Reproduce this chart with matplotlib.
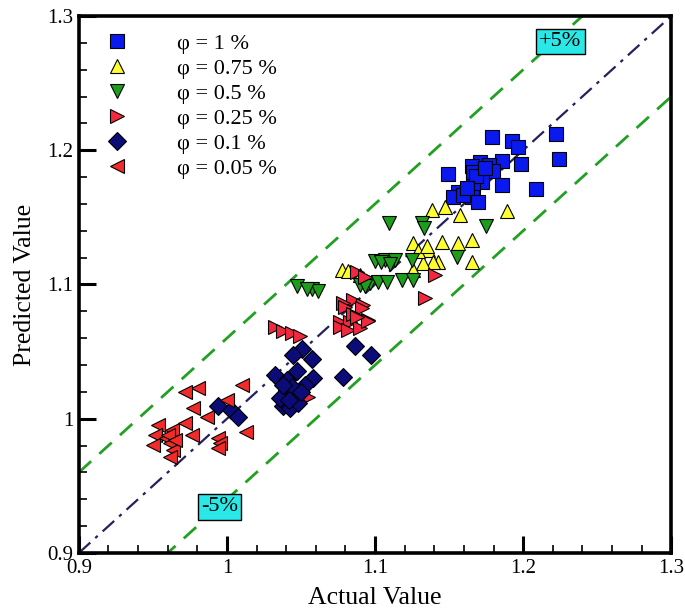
import matplotlib
matplotlib.use("Agg")
import matplotlib.pyplot as plt
import numpy as np
from matplotlib.ticker import MultipleLocator

plt.rcParams['font.family'] = ['Liberation Serif', 'DejaVu Serif']

# ---- data ----
phi1_x = [1.1789, 1.1924, 1.1968, 1.2223, 1.2245, 1.1856, 1.1984, 1.1709, 1.1766, 1.1799,
          1.1653, 1.1495, 1.1664, 1.1721, 1.1856, 1.2088, 1.1563, 1.1664, 1.1529, 1.1653,
          1.1698, 1.1597, 1.1664, 1.1680, 1.1740, 1.1620]
phi1_y = [1.2095, 1.2070, 1.2023, 1.2122, 1.1936, 1.1923, 1.1896, 1.1916, 1.1891, 1.1847,
          1.1879, 1.1822, 1.1792, 1.1760, 1.1742, 1.1710, 1.1692, 1.1705, 1.1650, 1.1650,
          1.1618, 1.1668, 1.1841, 1.1810, 1.1870, 1.1720]

phi075_x = [1.1383, 1.1473, 1.1574, 1.1889, 1.1450, 1.1563, 1.1653, 1.1428, 1.1653, 1.1259,
            1.1360, 1.1394, 1.1326, 1.1259, 1.0774, 1.0899, 1.1290, 1.1350, 1.0820]
phi075_y = [1.1556, 1.1576, 1.1519, 1.1544, 1.1320, 1.1312, 1.1332, 1.1171, 1.1171, 1.1307,
            1.1258, 1.1166, 1.1159, 1.1109, 1.1109, 1.1072, 1.1250, 1.1290, 1.1100]

phi05_x = [1.1750, 1.1552, 1.1097, 1.1315, 1.1331, 1.1247, 1.1000, 1.1068, 1.1135, 1.0899,
           1.0966, 1.1022, 1.1078, 1.1180, 1.1259, 1.0471, 1.0572, 1.0617, 1.0540, 1.1040,
           1.1100, 1.0930]
phi05_y = [1.1432, 1.1208, 1.1457, 1.1457, 1.1420, 1.1183, 1.1178, 1.1183, 1.1183, 1.0997,
           1.1010, 1.1022, 1.1022, 1.1034, 1.1034, 1.0987, 1.0967, 1.0948, 1.0970, 1.1170,
           1.1150, 1.0990]

phi025_x = [1.1405, 1.1338, 1.0876, 1.0932, 1.0853, 1.0921, 1.0786, 1.0955, 1.0764, 1.0831,
            1.0324, 1.0380, 1.0437, 1.0493, 1.0764, 1.0820, 1.0899, 1.0955, 1.0797, 1.0910,
            1.0549, 1.0850, 1.0880]
phi025_y = [1.1072, 1.0898, 1.1096, 1.1054, 1.0885, 1.0848, 1.0860, 1.0736, 1.0724, 1.0724,
            1.0682, 1.0657, 1.0637, 1.0617, 1.0686, 1.0662, 1.0674, 1.0731, 1.0835, 1.0823,
            1.0165, 1.0780, 1.0760]

phi01_x = [1.0504, 1.0448, 1.0572, 1.0471, 1.0324, 1.0403, 1.0583, 1.0527, 1.0403, 1.0459,
           1.0380, 1.0426, 1.0482, 1.0358, 1.0865, 1.0970, 1.0786, 0.9941, 1.0031, 1.0076,
           1.0440, 1.0500, 1.0420, 1.0380]
phi01_y = [1.0518, 1.0475, 1.0443, 1.0359, 1.0326, 1.0289, 1.0302, 1.0252, 1.0215, 1.0190,
           1.0095, 1.0078, 1.0115, 1.0152, 1.0542, 1.0475, 1.0314, 1.0095, 1.0066, 1.0016,
           1.0240, 1.0200, 1.0140, 1.0250]

phi005_x = [1.0099, 0.9806, 0.9716, 0.9998, 0.9772, 0.9536, 0.9514, 0.9502, 0.9626, 0.9592,
            0.9615, 0.9637, 0.9615, 0.9716, 0.9761, 0.9863, 0.9941, 0.9953, 0.9941, 1.0132,
            0.9600, 0.9650]
phi005_y = [1.0252, 1.0227, 1.0202, 1.0140, 1.0078, 0.9954, 0.9879, 0.9805, 0.9917, 0.9855,
            0.9817, 0.9767, 0.9718, 0.9966, 0.9879, 1.0016, 0.9855, 0.9817, 0.9780, 0.9904,
            0.9880, 0.9840]

labels = ['φ = 1 %', 'φ = 0.75 %', 'φ = 0.5 %', 'φ = 0.25 %', 'φ = 0.1 %', 'φ = 0.05 %']
markers = ['s', '^', 'v', '>', 'D', '<']
colors = ['#0a1aee', '#ffff30', '#1c9e1c', '#f2283f', '#0c0c78', '#f22a2a']
sizes = [9.5, 10.5, 10.5, 10.5, 9, 10.5]
series = [(phi1_x, phi1_y), (phi075_x, phi075_y), (phi05_x, phi05_y),
          (phi025_x, phi025_y), (phi01_x, phi01_y), (phi005_x, phi005_y)]

# reference lines: 1:1 and the two error bands
line_x = [0.9, 1.3]
band_offset = 0.06
tick_vals = [0.9, 1.0, 1.1, 1.2, 1.3]
tick_text = ['0.9', '1', '1.1', '1.2', '1.3']

fig = plt.figure(figsize=(6.85, 6.12), dpi=100)
ax = fig.add_axes([0.115, 0.0964, 0.865, 0.8775])

lx = np.array(line_x)
ax.plot(lx, lx, color='#25205e', lw=1.6, dashes=[7, 3, 1.5, 3], zorder=1)
ax.plot(lx, lx + band_offset, color='#22a022', lw=2.0, dashes=[6, 4], zorder=1)
ax.plot(lx, lx - band_offset, color='#22a022', lw=2.0, dashes=[6, 4], zorder=1)

handles = []
for (xs, ys), lab, m, c, s in zip(series, labels, markers, colors, sizes):
    h, = ax.plot(xs, ys, linestyle='none', marker=m, markersize=s, markerfacecolor=c,
                 markeredgecolor='black', markeredgewidth=0.8, label=lab, zorder=3)
    handles.append(h)

ax.set_xlim(0.9, 1.3)
ax.set_ylim(0.9, 1.3)
ax.xaxis.set_minor_locator(MultipleLocator(0.02))
ax.yaxis.set_minor_locator(MultipleLocator(0.02))
ax.set_xticks(tick_vals)
ax.set_xticklabels(tick_text)
ax.set_yticks(tick_vals)
ax.set_yticklabels(tick_text)
ax.tick_params(which='major', direction='in', length=12, width=2.2, labelsize=15,
               top=False, right=False, pad=4)
ax.tick_params(which='minor', direction='in', length=6, width=1.2, top=False, right=False)
for sp in ax.spines.values():
    sp.set_linewidth(2.6)

ax.set_xlabel('Actual Value', fontsize=18.5, labelpad=7)
ax.set_ylabel('Predicted Value', fontsize=18.5, labelpad=8)

leg = ax.legend(handles=handles, loc='upper left', frameon=False, fontsize=16,
                handletextpad=2.2, labelspacing=0.2, borderaxespad=0.0,
                bbox_to_anchor=(0.03, 0.984), handlelength=1.0)

box = dict(boxstyle='square,pad=0.15', facecolor='#2ae8e8', edgecolor='black', lw=1.0)
ax.text(1.225, 1.281, '+5%', fontsize=16, ha='center', va='center', bbox=box, zorder=4)
ax.text(0.995, 0.9345, '-5%', fontsize=16, ha='center', va='center', bbox=box, zorder=4)

fig.savefig('out.png', dpi=100)
